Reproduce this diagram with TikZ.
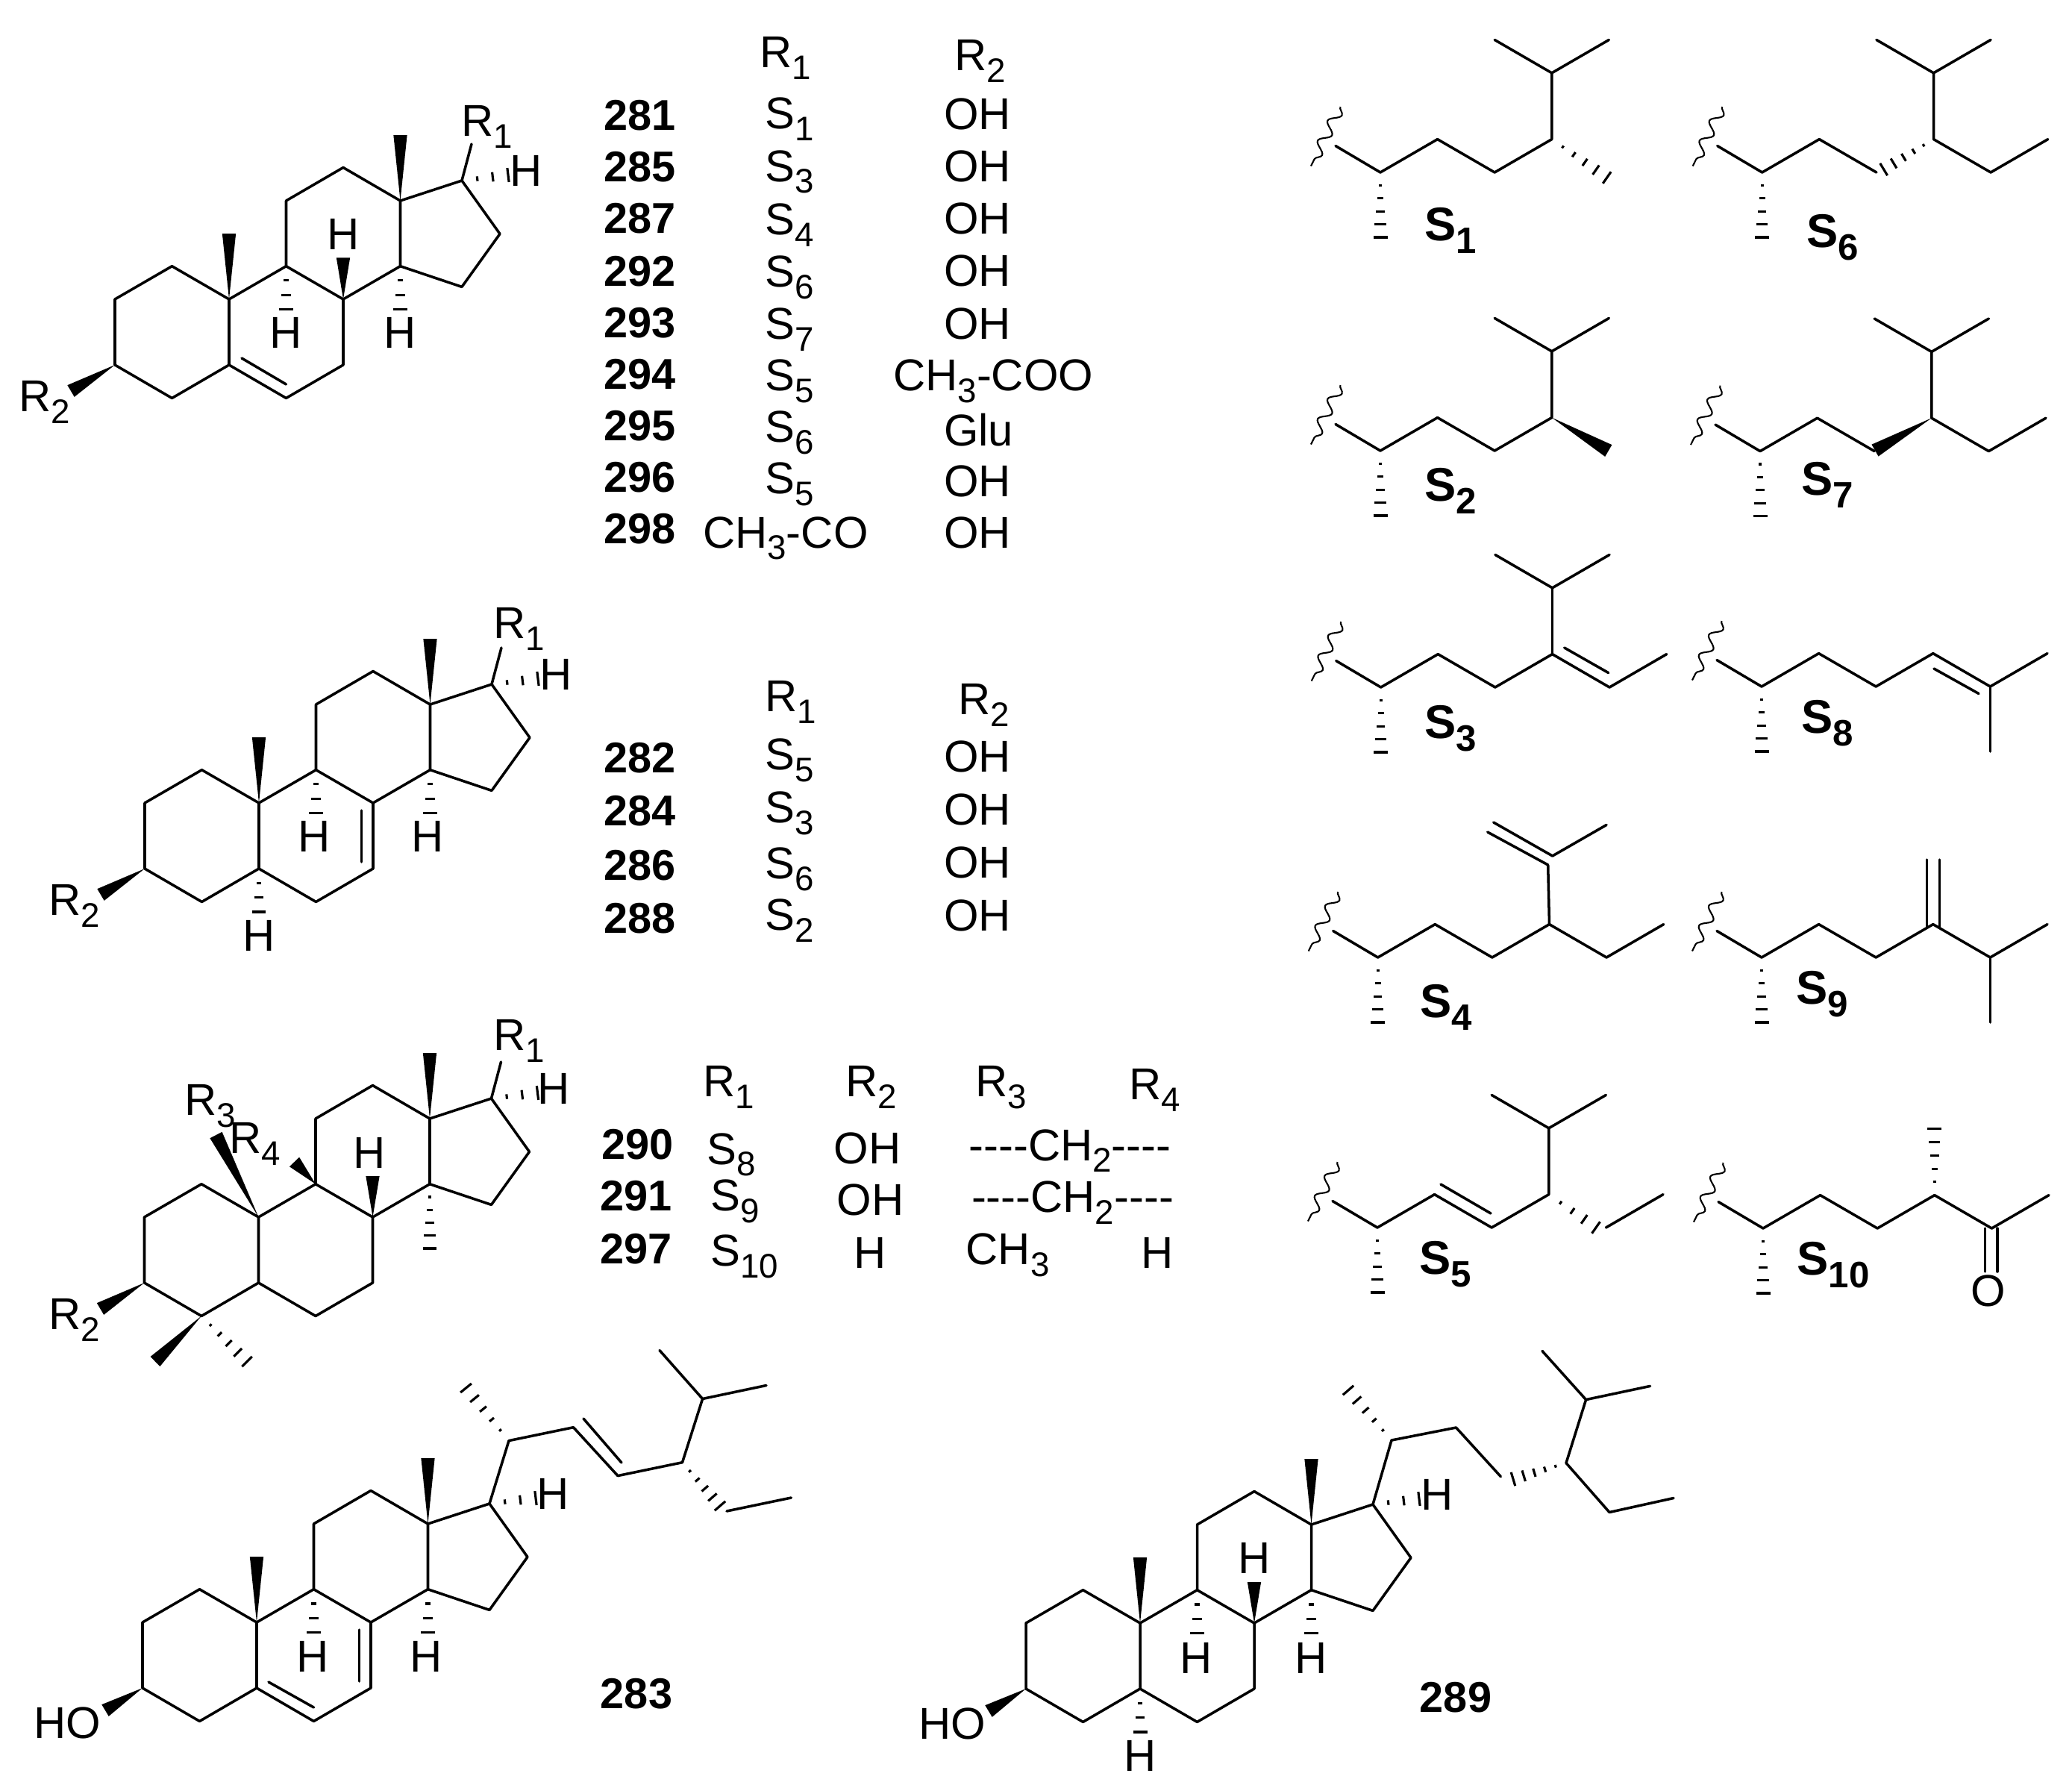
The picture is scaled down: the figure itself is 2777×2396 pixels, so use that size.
\documentclass[tikz,border=0pt]{standalone}
\usepackage{fontspec}
\setmainfont{Liberation Sans}
\usetikzlibrary{calc,decorations.pathmorphing}

\newcommand{\chemsub}[1]{\raisebox{-0.5ex}{\fontsize{13}{14}\selectfont #1}}
\newcommand{\boldsub}[1]{\raisebox{-0.5ex}{\fontsize{14}{15}\selectfont\bfseries #1}}
\newcommand{\fourdash}{-{}-{}-{}-}

\tikzset{
    bond/.style={line width=1pt, line join=round, line cap=round},
    hashline/.style={line width=0.9pt},
    wavy/.style={line width=0.6pt, decorate, decoration={snake, amplitude=2pt, segment length=8.5pt}},
    atom/.style={inner sep=0pt, font=\fontsize{17}{18}\selectfont},
    cmpd/.style={inner sep=0pt, font=\fontsize{16.4}{18}\selectfont\bfseries},
    chainlabel/.style={inner sep=0pt, font=\fontsize{18}{20}\selectfont\bfseries},
}

% narrow end at #1, wide end at #2
\newcommand{\wedgebond}[2]{
    \fill (#1) -- ($(#2)!2.6pt!90:(#1)$) -- ($(#2)!2.6pt!-90:(#1)$) -- cycle;
}
\newcommand{\hashbond}[3][5]{
    \foreach \k in {1,...,#1}{
        \pgfmathsetmacro{\hbt}{\k/#1}
        \pgfmathsetmacro{\hbw}{2.7*\hbt}
        \coordinate (hb) at ($(#2)!\hbt!(#3)$);
        \draw[hashline] ($(hb)!\hbw pt!90:(#2)$) -- ($(hb)!\hbw pt!-90:(#2)$);
    }
}

% four rings, origin at c10
\newcommand{\steroidcore}{
    \coordinate (c10) at (0,0);
    \coordinate (c1) at (-76.5,-44.3);
    \coordinate (c2) at (-153,0);
    \coordinate (c3) at (-153,88);
    \coordinate (c4) at (-76.5,132.5);
    \coordinate (c5) at (0,88);
    \coordinate (c6) at (76.5,132.5);
    \coordinate (c7) at (153,88);
    \coordinate (c8) at (153,0);
    \coordinate (c9) at (76.5,-44.3);
    \coordinate (c11) at (76.5,-132);
    \coordinate (c12) at (153,-176.5);
    \coordinate (c13) at (229.5,-132);
    \coordinate (c14) at (229.5,-44.3);
    \coordinate (c15) at (312,-16.6);
    \coordinate (c16) at (363,-87.6);
    \coordinate (c17) at (312,-159);
    \coordinate (m18) at (229.5,-220);
    \coordinate (m19) at (0,-88);
    \coordinate (h9) at (76.5,13.3);
    \coordinate (h14) at (229.5,13.3);
    \coordinate (h17) at (374,-166.5);
    \coordinate (o3) at (-212,123);
    \draw[bond] (c10) -- (c1) -- (c2) -- (c3) -- (c4) -- (c5) -- cycle;
    \draw[bond] (c5) -- (c6) -- (c7) -- (c8) -- (c9) -- (c10);
    \draw[bond] (c9) -- (c11) -- (c12) -- (c13) -- (c14) -- (c8);
    \draw[bond] (c14) -- (c15) -- (c16) -- (c17) -- (c13);
    \wedgebond{c13}{m18}
    \hashbond[3]{c17}{h17}
}

% start of a side chain, origin at c20
\newcommand{\chainbase}{
    \coordinate (p0) at (0,0);
    \coordinate (p1) at (76.6,-44.4);
    \coordinate (p2) at (153.2,0);
    \coordinate (p3) at (229.8,-44.4);
    \coordinate (p4) at (306.4,0);
    \coordinate (p5) at (383,-44.4);
    \coordinate (pt) at (229.8,-133.2);
    \coordinate (ptl) at (153.2,-177.6);
    \coordinate (ptr) at (306.4,-177.6);
    \coordinate (pm) at (0,87);
    \coordinate (pw) at (-60,-35.5);
    \coordinate (wv1) at (-53.6,-88);
    \coordinate (wv2) at (-93,-8.5);
    \draw[wavy] (wv1) -- (wv2);
    \draw[bond] (pw) -- (p0) -- (p1);
    \hashbond{p0}{pm}
}

\begin{document}
\begin{tikzpicture}[x=0.01cm,y=-0.01cm]
    \useasboundingbox (0,0) rectangle (2777,2396);

    % first skeleton
    \begin{scope}[shift={(307,401)}]
        \steroidcore
        \coordinate (h8) at (153,-55.6);
        \coordinate (db1) at (17,79);
        \coordinate (db2) at (76.5,114);
        \coordinate (r1a) at (325,-208);
        \draw[bond] (db1) -- (db2);
        \draw[bond] (c17) -- (r1a);
        \wedgebond{c10}{m19}
        \wedgebond{c8}{h8}
        \wedgebond{c3}{o3}
        \hashbond[3]{c9}{h9}
        \hashbond[3]{c14}{h14}
        \node[atom] (a1h8) at (153,-87) {H};
        \node[atom] (a1h9) at (76.5,45) {H};
        \node[atom] (a1h14) at (229.5,45) {H};
        \node[atom] (a1h17) at (398,-172) {H};
        \node[atom] (a1r1) at (346,-231) {R\chemsub{1}};
        \node[atom] (a1r2) at (-247,138) {R\chemsub{2}};
    \end{scope}

    % second skeleton
    \begin{scope}[shift={(347,1076)}]
        \steroidcore
        \coordinate (db1) at (137.4,10);
        \coordinate (db2) at (137.4,79);
        \coordinate (h5) at (0,146);
        \coordinate (r1a) at (325,-208);
        \draw[bond] (db1) -- (db2);
        \draw[bond] (c17) -- (r1a);
        \wedgebond{c10}{m19}
        \wedgebond{c3}{o3}
        \hashbond[3]{c9}{h9}
        \hashbond[3]{c14}{h14}
        \hashbond[3]{c5}{h5}
        \node[atom] (a2h5) at (0,178) {H};
        \node[atom] (a2h9) at (74,45) {H};
        \node[atom] (a2h14) at (226,45) {H};
        \node[atom] (a2h17) at (398,-172) {H};
        \node[atom] (a2r1) at (349,-233) {R\chemsub{1}};
        \node[atom] (a2r2) at (-247,138) {R\chemsub{2}};
    \end{scope}

    % third skeleton
    \begin{scope}[shift={(346.5,1631)}]
        \steroidcore
        \coordinate (h8) at (153,-55);
        \coordinate (m14) at (229.5,42);
        \coordinate (r1a) at (325,-208);
        \coordinate (r3a) at (-57,-110);
        \coordinate (r4a) at (48,-74);
        \coordinate (m4a) at (-138.5,193.5);
        \coordinate (m4b) at (-15.5,193.5);
        \draw[bond] (c17) -- (r1a);
        \wedgebond{c8}{h8}
        \wedgebond{c3}{o3}
        \wedgebond{c10}{r3a}
        \wedgebond{c9}{r4a}
        \wedgebond{c4}{m4a}
        \hashbond{c4}{m4b}
        \hashbond{c14}{m14}
        \node[atom] (a3h8) at (149,-86) {H};
        \node[atom] (a3h17) at (396,-172) {H};
        \node[atom] (a3r1) at (349,-236) {R\chemsub{1}};
        \node[atom] (a3r2) at (-247,138) {R\chemsub{2}};
        \node[atom] (a3r3) at (-65,-149) {R\chemsub{3}};
        \node[atom] (a3r4) at (-5,-98) {R\chemsub{4}};
    \end{scope}

    % compound 283
    \begin{scope}[shift={(344,2174)}]
        \steroidcore
        \coordinate (db1) at (137.4,10);
        \coordinate (db2) at (137.4,79);
        \coordinate (db3) at (16,80);
        \coordinate (db4) at (76.5,114);
        \coordinate (o3) at (-203,118);
        \draw[bond] (db1) -- (db2);
        \draw[bond] (db3) -- (db4);
        \wedgebond{c10}{m19}
        \wedgebond{c3}{o3}
        \hashbond[3]{c9}{h9}
        \hashbond[3]{c14}{h14}
        \node[atom] (b1h9) at (75,46) {H};
        \node[atom] (b1h14) at (227,46) {H};
        \node[atom] (b1h17) at (397,-172) {H};
        \node[atom] (b1oh) at (-254,135) {HO};
    \end{scope}
    \coordinate (e20) at (682,1930.6);
    \coordinate (e21) at (624.5,1860);
    \coordinate (e22) at (768.5,1912.7);
    \coordinate (e23) at (828,1977.6);
    \coordinate (e24) at (914.5,1959.7);
    \coordinate (e25) at (941.6,1874.5);
    \coordinate (e26) at (884,1809.5);
    \coordinate (e27) at (1027,1856.5);
    \coordinate (e28) at (974,2025);
    \coordinate (e29) at (1060.4,2007);
    \coordinate (e30) at (782,1901);
    \coordinate (e31) at (833,1960);
    \coordinate (e32) at (965,2018);
    \draw[bond] (c17) -- (e20) -- (e22) -- (e23) -- (e24) -- (e25) -- (e26);
    \draw[bond] (e25) -- (e27);
    \draw[bond] (e28) -- (e29);
    \draw[bond] (e30) -- (e31);
    \hashbond{e20}{e21}
    \hashbond{e24}{e32}
    \node[cmpd] (n283) at (853,2270) {283};

    % compound 289
    \begin{scope}[shift={(1528,2175)}]
        \steroidcore
        \coordinate (h8) at (153,-55);
        \coordinate (h5) at (0,146);
        \coordinate (o3) at (-203,118);
        \wedgebond{c10}{m19}
        \wedgebond{c8}{h8}
        \wedgebond{c3}{o3}
        \hashbond[3]{c9}{h9}
        \hashbond[3]{c14}{h14}
        \hashbond[3]{c5}{h5}
        \node[atom] (b2h5) at (0,178) {H};
        \node[atom] (b2h8) at (153,-87) {H};
        \node[atom] (b2h9) at (75.5,47) {H};
        \node[atom] (b2h14) at (229,47) {H};
        \node[atom] (b2h17) at (398,-172) {H};
        \node[atom] (b2oh) at (-252,135) {HO};
    \end{scope}
    \coordinate (f20) at (1865,1930);
    \coordinate (f21) at (1807,1863);
    \coordinate (f22) at (1951.5,1913);
    \coordinate (f23) at (2011.4,1978.7);
    \coordinate (f24) at (2099,1960.5);
    \coordinate (f25) at (2125.6,1875.6);
    \coordinate (f26) at (2067,1810.4);
    \coordinate (f27) at (2211.6,1857.4);
    \coordinate (f28) at (2157,2026.5);
    \coordinate (f29) at (2243,2007.5);
    \coordinate (f30) at (2028,1982);
    \draw[bond] (c17) -- (f20) -- (f22) -- (f23);
    \draw[bond] (f26) -- (f25) -- (f24) -- (f28) -- (f29);
    \draw[bond] (f25) -- (f27);
    \hashbond{f20}{f21}
    \hashbond{f24}{f30}
    \node[cmpd] (n289) at (1951,2275) {289};

    % side chains, left column
    \begin{scope}[shift={(1850,231)}]
        \chainbase
        \coordinate (pe) at (303.7,7);
        \draw[bond] (p1) -- (p2) -- (p3) -- (pt) -- (ptl);
        \draw[bond] (pt) -- (ptr);
        \hashbond{p3}{pe}
    \end{scope}
    \node[chainlabel] (s1) at (1944,309) {S\boldsub{1}};

    \begin{scope}[shift={(1850,604)}]
        \chainbase
        \coordinate (pe) at (305.8,0);
        \draw[bond] (p1) -- (p2) -- (p3) -- (pt) -- (ptl);
        \draw[bond] (pt) -- (ptr);
        \wedgebond{p3}{pe}
    \end{scope}
    \node[chainlabel] (s2) at (1944,658) {S\boldsub{2}};

    \begin{scope}[shift={(1850.7,921)}]
        \chainbase
        \coordinate (db1) at (246,-53);
        \coordinate (db2) at (305,-19.4);
        \draw[bond] (p1) -- (p2) -- (p3) -- (p4) -- (p5);
        \draw[bond] (ptl) -- (pt) -- (ptr);
        \draw[bond] (pt) -- (p3);
        \draw[bond] (db1) -- (db2);
    \end{scope}
    \node[chainlabel] (s3) at (1944,976) {S\boldsub{3}};

    \begin{scope}[shift={(1846.7,1283)}]
        \chainbase
        \coordinate (da1) at (155,-181);
        \coordinate (da2) at (234,-136);
        \coordinate (da3) at (147,-168);
        \coordinate (da4) at (228,-124);
        \draw[bond] (p1) -- (p2) -- (p3) -- (p4) -- (p5);
        \draw[bond] (p3) -- (da4);
        \draw[bond] (da2) -- (ptr);
        \draw[bond] (da1) -- (da2);
        \draw[bond] (da3) -- (da4);
    \end{scope}
    \node[chainlabel] (s4) at (1938,1350) {S\boldsub{4}};

    \begin{scope}[shift={(1846,1645)}]
        \chainbase
        \coordinate (db1) at (85,-58);
        \coordinate (db2) at (152,-19);
        \coordinate (pe) at (293,0);
        \draw[bond] (p1) -- (p2) -- (p3) -- (pt) -- (ptl);
        \draw[bond] (pt) -- (ptr);
        \draw[bond] (p4) -- (p5);
        \draw[bond] (db1) -- (db2);
        \hashbond[4]{p3}{pe}
    \end{scope}
    \node[chainlabel] (s5) at (1937,1694) {S\boldsub{5}};

    % side chains, right column
    \begin{scope}[shift={(2361.7,231)}]
        \chainbase
        \coordinate (pe) at (163,-4);
        \draw[bond] (p1) -- (p2);
        \draw[bond] (ptl) -- (pt) -- (ptr);
        \draw[bond] (pt) -- (p3) -- (p4) -- (p5);
        \hashbond{p3}{pe}
    \end{scope}
    \node[chainlabel] (s6) at (2456,318) {S\boldsub{6}};

    \begin{scope}[shift={(2359,604.6)}]
        \chainbase
        \coordinate (pe) at (154,-1);
        \draw[bond] (p1) -- (p2);
        \draw[bond] (ptl) -- (pt) -- (ptr);
        \draw[bond] (pt) -- (p3) -- (p4) -- (p5);
        \wedgebond{p3}{pe}
    \end{scope}
    \node[chainlabel] (s7) at (2449,650) {S\boldsub{7}};

    \begin{scope}[shift={(2361,920)}]
        \chainbase
        \coordinate (db1) at (231,-24);
        \coordinate (db2) at (291,9.5);
        \coordinate (pd) at (306.4,87);
        \draw[bond] (p1) -- (p2) -- (p3) -- (p4) -- (p5);
        \draw[bond] (p4) -- (pd);
        \draw[bond] (db1) -- (db2);
    \end{scope}
    \node[chainlabel] (s8) at (2449,969) {S\boldsub{8}};

    \begin{scope}[shift={(2361,1283)}]
        \chainbase
        \coordinate (db1) at (221.7,-131);
        \coordinate (db2) at (221.7,-41);
        \coordinate (db3) at (238.7,-131);
        \coordinate (db4) at (238.7,-41);
        \coordinate (pd) at (306.4,87);
        \draw[bond] (p1) -- (p2) -- (p3) -- (p4) -- (p5);
        \draw[bond] (p4) -- (pd);
        \draw[bond] (db1) -- (db2);
        \draw[bond] (db3) -- (db4);
    \end{scope}
    \node[chainlabel] (s9) at (2442,1332) {S\boldsub{9}};

    \begin{scope}[shift={(2363,1646)}]
        \chainbase
        \coordinate (db1) at (297.6,0);
        \coordinate (db2) at (297.6,58);
        \coordinate (db3) at (314,0);
        \coordinate (db4) at (314,58);
        \draw[bond] (p1) -- (p2) -- (p3) -- (p4) -- (p5);
        \draw[bond] (db1) -- (db2);
        \draw[bond] (db3) -- (db4);
        \hashbond{p3}{pt}
        \node[atom] (s10o) at (302,84) {O};
    \end{scope}
    \node[chainlabel] (s10) at (2457,1695) {S\boldsub{10}};

    % tables
    \begin{scope}[x=0.01771cm,y=-0.01771cm]
        \node[atom] (ta1) at (594,44) {R\chemsub{1}};
        \node[atom] (ta2) at (741,46) {R\chemsub{2}};
        \foreach \cmpdnum/\ya/\sval/\yb/\gval/\xc/\yc in {
            281/87/S\chemsub{1}/90/OH/739/86,
            285/126/S\chemsub{3}/130/OH/739/126,
            287/165/S\chemsub{4}/170/OH/739/165,
            292/205/S\chemsub{6}/210/OH/739/205,
            293/244/S\chemsub{7}/249/OH/739/245,
            294/283/S\chemsub{5}/288/CH\chemsub{3}-COO/751/288,
            295/322/S\chemsub{6}/327/Glu/740/325,
            296/361/S\chemsub{5}/366/OH/739/364,
            298/400/CH\chemsub{3}-CO/407/OH/739/403,
            282/573/S\chemsub{5}/575/OH/739/572,
            284/613/S\chemsub{3}/615/OH/739/612,
            286/654/S\chemsub{6}/657/OH/739/652,
            288/694/S\chemsub{2}/696/OH/739/692}{
            \node[cmpd] (n\cmpdnum) at (484,\ya) {\cmpdnum};
            \ifnum\cmpdnum=298
                \node[atom] (r\cmpdnum) at (594,\yb) {\sval};
            \else
                \node[atom] (r\cmpdnum) at (597,\yb) {\sval};
            \fi
            \node[atom] (g\cmpdnum) at (\xc,\yc) {\gval};
        }
        \node[atom] (tb1) at (598,531) {R\chemsub{1}};
        \node[atom] (tb2) at (744,533) {R\chemsub{2}};

        \node[atom] (tc1) at (551,822) {R\chemsub{1}};
        \node[atom] (tc2) at (659,822) {R\chemsub{2}};
        \node[atom] (tc3) at (757,822) {R\chemsub{3}};
        \node[atom] (tc4) at (873,824) {R\chemsub{4}};
        \node[cmpd] (n290) at (482,865) {290};
        \node[atom] (r290) at (553,873) {S\chemsub{8}};
        \node[atom] (g290) at (656,868) {OH};
        \node[atom] (l290) at (809,870) {\fourdash CH\chemsub{2}\fourdash};
        \node[cmpd] (n291) at (481,904) {291};
        \node[atom] (r291) at (556,908) {S\chemsub{9}};
        \node[atom] (g291) at (658,907) {OH};
        \node[atom] (l291) at (811,909) {\fourdash CH\chemsub{2}\fourdash};
        \node[cmpd] (n297) at (481,944) {297};
        \node[atom] (r297) at (563,950) {S\chemsub{10}};
        \node[atom] (g297) at (658,947) {H};
        \node[atom] (l297) at (762,949) {CH\chemsub{3}};
        \node[atom] (k297) at (875,947) {H};
    \end{scope}
\end{tikzpicture}
\end{document}
